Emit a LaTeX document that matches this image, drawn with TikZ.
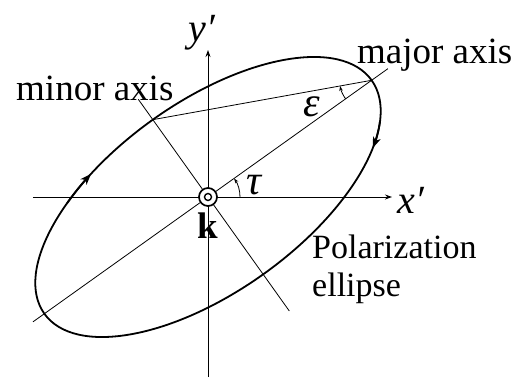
\documentclass[tikz,border=0pt]{standalone}
\usepackage{fontspec}
\setmainfont{Liberation Serif}
\usepackage{tikz}
\usetikzlibrary{arrows.meta}

\begin{document}
\begin{tikzpicture}[x=1pt, y=1pt,
  axis/.style={line width=0.9pt},
  thinline/.style={line width=0.8pt},
  ellip/.style={line width=1.8pt},
  lbl/.style={inner sep=0pt, font=\fontsize{37}{40}\selectfont},
  sym/.style={inner sep=0pt, font=\fontsize{42}{44}\selectfont\itshape},
  >={Stealth[length=7pt, width=5pt]}]
\useasboundingbox (-208,-181) rectangle (311,197);
\coordinate (O) at (0,0);
\coordinate (maj) at (35.5:201);
\coordinate (min) at (125.5:95);
\coordinate (xend) at (184,0);
\coordinate (xstart) at (-175,0);
\coordinate (yend) at (0,147);
\coordinate (ystart) at (0,-180);
% axes
\draw[axis,->] (xstart) -- (xend);
\draw[axis,->] (ystart) -- (yend);
% major and minor axes
\draw[thinline] (215.5:215) -- (35.5:221);
\draw[thinline] (125.5:120) -- (-54.5:140);
\draw[thinline] (min) -- (maj);
% polarization ellipse
\draw[ellip, rotate=35.5] (O) ellipse[x radius=201, y radius=95];
\begin{scope}[rotate=35.5]
  \draw[ellip, -{Stealth[length=11pt, width=8pt, inset=3pt]}]
    (126:201 and 95) arc[start angle=126, end angle=114, x radius=201, y radius=95];
  \draw[ellip, -{Stealth[length=11pt, width=8pt, inset=3pt]}]
    (-24:201 and 95) arc[start angle=-24, end angle=-36, x radius=201, y radius=95];
\end{scope}
% angles
\draw[thinline, -{Stealth[length=5pt, width=3.5pt]}]
  ([shift={(0:32)}]O) arc[start angle=0, end angle=35.5, radius=32];
\draw[thinline, -{Stealth[length=5pt, width=3.5pt]}]
  ([shift={(215.5:32)}]maj) arc[start angle=215.5, end angle=190.2, radius=32];
% wave vector
\draw[line width=1.7pt, fill=white] (O) circle[radius=9];
\draw[line width=1.4pt] (O) circle[radius=3.5];
% labels
\node[sym, font=\fontsize{40}{42}\selectfont\itshape] (ylab) at (-6,164) {y′};
\node[sym, font=\fontsize{40}{42}\selectfont\itshape] (xlab) at (203,-3) {x′};
\node[lbl, anchor=base west] (majlab) at (149,134) {major axis};
\node[lbl, anchor=base west] (minlab) at (-192,97) {minor axis};
\node[sym] (eps) at (104,90) {ε};
\node[sym] (tau) at (46,12) {τ};
\node[lbl, anchor=base] (klab) at (0,-41) {\bfseries k};
\node[lbl, anchor=west, align=left, font=\fontsize{34}{38}\selectfont]
  (pol) at (104,-72) {Polarization\\ellipse};
\end{tikzpicture}
\end{document}
